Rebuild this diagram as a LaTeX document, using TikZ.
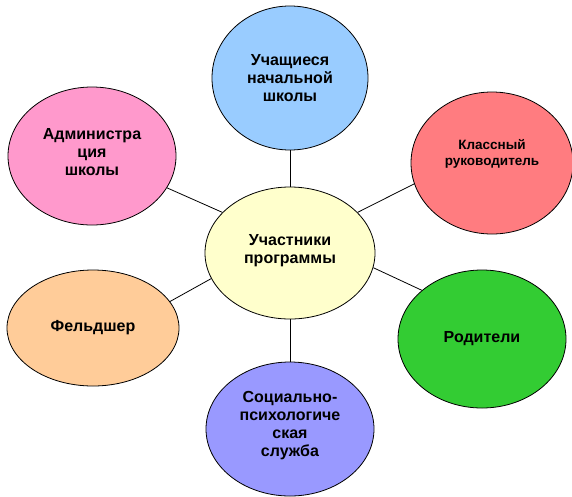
\documentclass[tikz,border=0pt]{standalone}
\usepackage{fontspec}
\setmainfont{Liberation Sans}
\usetikzlibrary{shapes.geometric}

\definecolor{pupilblue}{HTML}{99CCFF}
\definecolor{adminpink}{HTML}{FF99CC}
\definecolor{teacherred}{HTML}{FF7C80}
\definecolor{progyellow}{HTML}{FFFFCC}
\definecolor{medorange}{HTML}{FFCC99}
\definecolor{parentgreen}{HTML}{33CC33}
\definecolor{servicepurple}{HTML}{9999FF}

\begin{document}
\begin{tikzpicture}[x={(1pt,0)}, y={(0,-1pt)},
    member/.style={ellipse, draw=black, line width=0.8pt, inner sep=0pt, align=center,
                   font=\bfseries\fontsize{16}{18}\selectfont},
    link/.style={draw=black, line width=0.8pt}]
                        \useasboundingbox (0,0) rectangle (572,496);

                        \node[member, fill=progyellow, minimum width=170, minimum height=132, text depth=9pt] (P) at (290,253) {Участники\\программы};
                        \node[member, fill=pupilblue, minimum width=156, minimum height=144] (U) at (290,78) {Учащиеся\\начальной\\школы};
                        \node[member, fill=adminpink, minimum width=168, minimum height=138, text depth=8pt] (A) at (92,156) {Администра\\ция\\школы};
                        \node[member, fill=teacherred, minimum width=162, minimum height=142, text depth=21pt,
                              font=\bfseries\fontsize{13.5}{16}\selectfont] (K) at (492,163) {Классный\\руководитель};
                        \node[member, fill=medorange, minimum width=172, minimum height=116] (F) at (93,328) {Фельдшер};
                        \node[member, fill=parentgreen, minimum width=168, minimum height=138] (R) at (482,339) {Родители};
                        \node[member, fill=servicepurple, minimum width=168, minimum height=134, text depth=11pt] (S) at (290,429) {Социально-\\психологиче\\ская\\служба};

                        \path[link]
                            (P.north) edge (U.south)
                            (P.149) edge (A.-23)
                            (P.31) edge (K.195)
                            (P.198) edge (F.19)
                            (P.-10) edge (R.141)
                            (P.south) edge (S.north);
                    \end{tikzpicture}
\end{document}
